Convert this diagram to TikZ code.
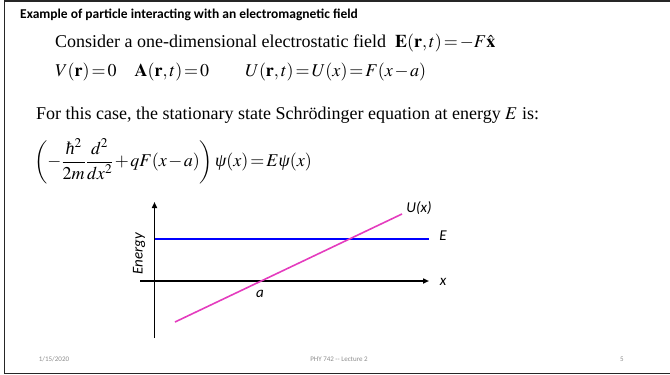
\documentclass[tikz,border=0pt]{standalone}
\usepackage{amsmath}
\usepackage{mathptmx}
\usepackage{fontspec}
\setmainfont{Liberation Serif}
\newfontfamily\calfont{Carlito}
\usetikzlibrary{arrows.meta}
\definecolor{ucol}{RGB}{228,60,190}
\definecolor{footgray}{RGB}{140,140,140}
\newcommand{\mypsi}{\text{\itshape ψ}}
\newcommand{\myhbar}{\text{\itshape ħ}}
\newcommand{\tightmath}{\thickmuskip=2mu plus 1mu\medmuskip=1.5mu\thinmuskip=2mu}
\tikzset{
  serifline/.style={anchor=west, inner sep=0pt, font=\fontsize{18}{20}\selectfont\tightmath},
  titletext/.style={anchor=west, inner sep=0pt, font=\calfont\bfseries\fontsize{13.5}{15}\selectfont},
  foot/.style={inner sep=0pt, text=footgray, font=\calfont\fontsize{7}{8}\selectfont},
  plotlabel/.style={inner sep=0pt, font=\calfont\itshape\fontsize{15}{17}\selectfont},
  axisline/.style={line width=1.6pt, -{Triangle[length=6pt,width=5pt]}},
  frameline/.style={line width=1.6pt, draw=black!85},
}
\begin{document}
\begin{tikzpicture}[x=1pt,y=-1pt]
\useasboundingbox (0,0) rectangle (670,375);
\draw[frameline] (4.5,1) rectangle (675,373.5);
% texts
\node[titletext] (title) at (20,15) {Example of particle interacting with an electromagnetic field};
\node[serifline] (l1) at (55,43) {Consider a one-dimensional electrostatic field \ $\mathbf{E}(\mathbf{r},t)=-F\hat{\mathbf{x}}$};
\node[serifline] (l2) at (55,72) {$V(\mathbf{r})=0\quad\mathbf{A}(\mathbf{r},t)=0\qquad U(\mathbf{r},t)=U(x)=F(x-a)$};
\node[serifline] (l3) at (36,115) {For this case, the stationary state Schrödinger equation at energy $E$ is:};
\node[serifline] (eq) at (34,161) {$\left(-\dfrac{\myhbar^2}{2m}\dfrac{d^2}{dx^2}+qF(x-a)\right)\mypsi(x)=E\mypsi(x)$};
% plot
\coordinate (vbot) at (154.5,338);
\coordinate (vtop) at (154.5,202);
\coordinate (hleft) at (140,281);
\coordinate (hright) at (429,281);
\coordinate (eleft) at (155,239);
\coordinate (eright) at (429,239);
\coordinate (ustart) at (175,322);
\coordinate (uend) at (402,214);
\draw[axisline] (vbot) -- (vtop);
\draw[axisline] (hleft) -- (hright);
\draw[line width=1.6pt, blue] (eleft) -- (eright);
\draw[line width=1.6pt, ucol] (ustart) -- (uend);
\node[plotlabel] (ulab) at (419,208) {U(x)};
\node[plotlabel] (elab) at (443,236) {E};
\node[plotlabel] (xlab) at (443,282) {x};
\node[plotlabel] (alab) at (260,294) {a};
\node[plotlabel, rotate=90] (enlab) at (139,254) {Energy};
% footer
\node[foot] (date) at (54,359) {1/15/2020};
\node[foot] (course) at (339,359) {PHY 742 -- Lecture 2};
\node[foot] (page) at (622,359) {5};
\end{tikzpicture}
\end{document}
